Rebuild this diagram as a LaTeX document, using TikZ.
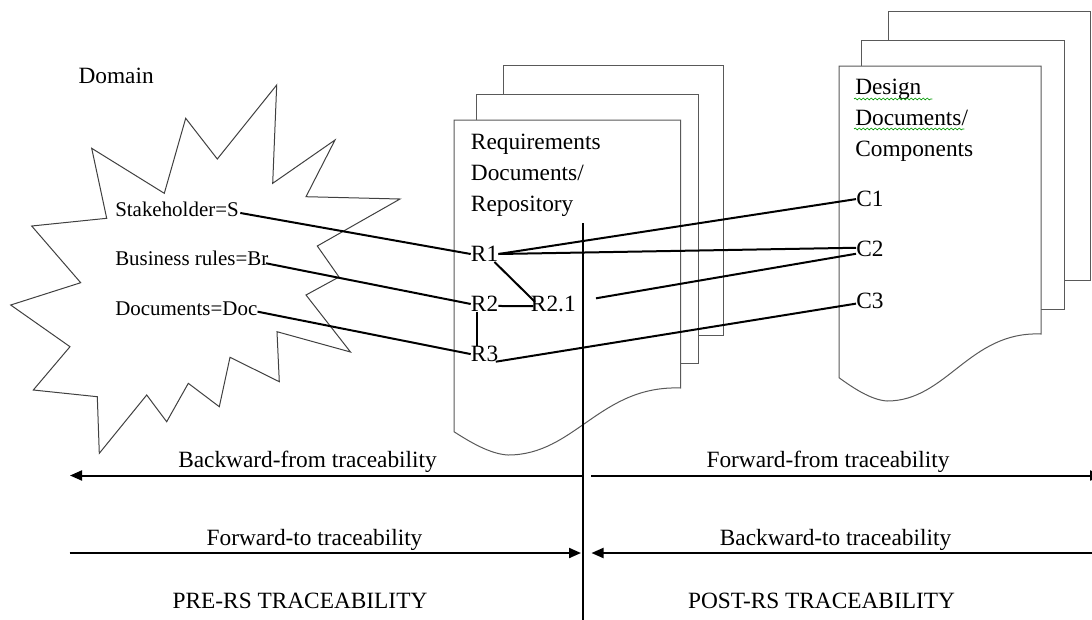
\documentclass[tikz,border=0pt]{standalone}
\usepackage{fontspec}
\setmainfont{Liberation Serif}
\usetikzlibrary{arrows.meta,decorations.pathmorphing}
\begin{document}
\begin{tikzpicture}[x=0.75pt,y=-0.75pt,
  page/.style={draw=black!65, line width=0.75pt, fill=white},
  burst/.style={draw=black!75, line width=0.75pt},
  conn/.style={draw=black, line width=1.5pt},
  lbl/.style={inner sep=0pt, anchor=base west, font=\fontsize{17.5}{21}\selectfont},
  dom/.style={inner sep=0pt, anchor=base west, font=\fontsize{15.7}{19}\selectfont},
  arrlabel/.style={inner sep=0pt, anchor=base, font=\fontsize{17.5}{21}\selectfont},
  arr/.style={line width=1.5pt, -{Triangle[length=9pt,width=7.5pt]}},
  squig/.style={draw=green!60!black, line width=0.5pt, decorate,
    decoration={snake, amplitude=0.7pt, segment length=3pt}}
]
\useasboundingbox (0,0) rectangle (1092,619);
\clip (0,0) rectangle (1092,619);

% Domain starburst
\draw[burst] (276.7,85) -- (272.7,183.3) -- (335,140) -- (306,196.7) -- (400,199)
  -- (317.3,246) -- (339,277) -- (306,295) -- (350.5,352) -- (277,331.7)
  -- (279.3,381.7) -- (230,357.3) -- (219.3,406.7) -- (188.3,383.3)
  -- (166.7,421.7) -- (146.7,395) -- (99.3,453.3) -- (97.3,396.7)
  -- (33.3,390) -- (70,346.7) -- (10.7,305) -- (80.7,282.7) -- (31.7,226)
  -- (106.7,218.3) -- (91.7,148.3) -- (164.3,193.3) -- (185.7,118.3)
  -- (217.3,159) -- cycle;

% Requirements document stack
\draw[page] (503.3,65.7) rectangle (723.3,335);
\draw[page] (476.7,94.3) rectangle (698.3,363.3);
\begin{scope}[shift={(454,120)}]
  \draw[page] (0,0) -- (226.7,0) -- (226.7,268)
    .. controls (146,265) and (121,335) .. (54,335)
    .. controls (36,334) and (16,322) .. (0,311.7) -- cycle;
\end{scope}

% Design document stack
\draw[page] (888.3,11.7) rectangle (1090,280);
\draw[page] (861.7,40.7) rectangle (1064.3,309.3);
\begin{scope}[shift={(839,66)}, xscale=0.891]
  \draw[page] (0,0) -- (226.7,0) -- (226.7,268)
    .. controls (146,265) and (121,335) .. (54,335)
    .. controls (36,334) and (16,322) .. (0,311.7) -- cycle;
\end{scope}

% Texts
\node[lbl] (domain) at (78.3,83.3) {Domain};
\node[dom] (ds) at (115,216.7) {Stakeholder=S};
\node[dom] (db) at (115,265) {Business rules=Br};
\node[dom] (dd) at (115,315) {Documents=Doc};

\node[lbl] (req1) at (470.7,149) {Requirements};
\node[lbl] (req2) at (470.7,180) {Documents/};
\node[lbl] (req3) at (470.7,211) {Repository};

\node[lbl] (des1) at (855,94.3) {Design};
\node[lbl] (des2) at (855,125.5) {Documents/};
\node[lbl] (des3) at (855,156.5) {Components};
\draw[squig] ([xshift=-0.75pt,yshift=-3.5pt]des1.base west) -- ([xshift=8pt,yshift=-3.5pt]des1.base east);
\draw[squig] ([xshift=-0.75pt,yshift=-2.6pt]des2.base west) -- ([xshift=-3pt,yshift=-2.6pt]des2.base east);

\node[lbl] (R1) at (470.7,261.7) {R1};
\node[lbl] (R2) at (470.7,311.7) {R2};
\node[lbl] (R21) at (530.7,311.7) {R2.1};
\node[lbl] (R3) at (470.7,361.7) {R3};

\node[lbl] (C1) at (856,206.7) {C1};
\node[lbl] (C2) at (856,256.7) {C2};
\node[lbl] (C3) at (856,308.3) {C3};

% Connectors
\draw[conn] ([xshift=1pt,yshift=2.8pt]ds.base east) -- (R1.west);
\draw[conn] ([xshift=-2pt,yshift=1.3pt]db.base east) -- (R2.west);
\draw[conn] ([yshift=2.5pt]dd.base east) -- (R3.west);
\draw[conn] (R1.east) -- (C1.west);
\draw[conn] (R1.east) -- ([yshift=1pt]C2.west);
\draw[conn] ([xshift=-3pt]R1.south east) -- ([xshift=3.2pt,yshift=-4.4pt]R21.north west);
\draw[conn] ([yshift=-1.5pt]R2.east) -- ([xshift=2pt,yshift=-1.5pt]R21.west);
\draw[conn] ([xshift=-6pt]R2.south) -- ([xshift=-6pt]R3.north);
\coordinate (fl) at (596,298.3);
\draw[conn] (fl) -- ([yshift=-3.5pt]C2.west);
\draw[conn] ([xshift=-2pt]R3.base east) -- ([yshift=-2.2pt]C3.west);

% Divider
\coordinate (vtop) at (582.5,223);
\coordinate (vbot) at (582.5,625);
\draw[conn] (vtop) -- (vbot);

% Traceability arrows
\coordinate (bfs) at (581.5,475.5);
\coordinate (bfe) at (70,475.5);
\coordinate (ffs) at (591,475.5);
\coordinate (ffe) at (1102,475.5);
\coordinate (fts) at (69.5,553);
\coordinate (fte) at (581,553);
\coordinate (bts) at (1095,553);
\coordinate (bte) at (591.5,553);
\draw[arr] (bfs) -- (bfe);
\draw[arr] (ffs) -- (ffe);
\draw[arr] (fts) -- (fte);
\draw[arr] (bts) -- (bte);

\node[arrlabel] (bf) at (307.5,467.5) {Backward-from traceability};
\node[arrlabel] (ff) at (828,467.5) {Forward-from traceability};
\node[arrlabel] (ft) at (314.5,545.5) {Forward-to traceability};
\node[arrlabel] (bt) at (835.5,545.5) {Backward-to traceability};
\node[arrlabel] (pre) at (300,608.5) {PRE-RS TRACEABILITY};
\node[arrlabel] (post) at (821.5,608.5) {POST-RS TRACEABILITY};
\end{tikzpicture}
\end{document}
